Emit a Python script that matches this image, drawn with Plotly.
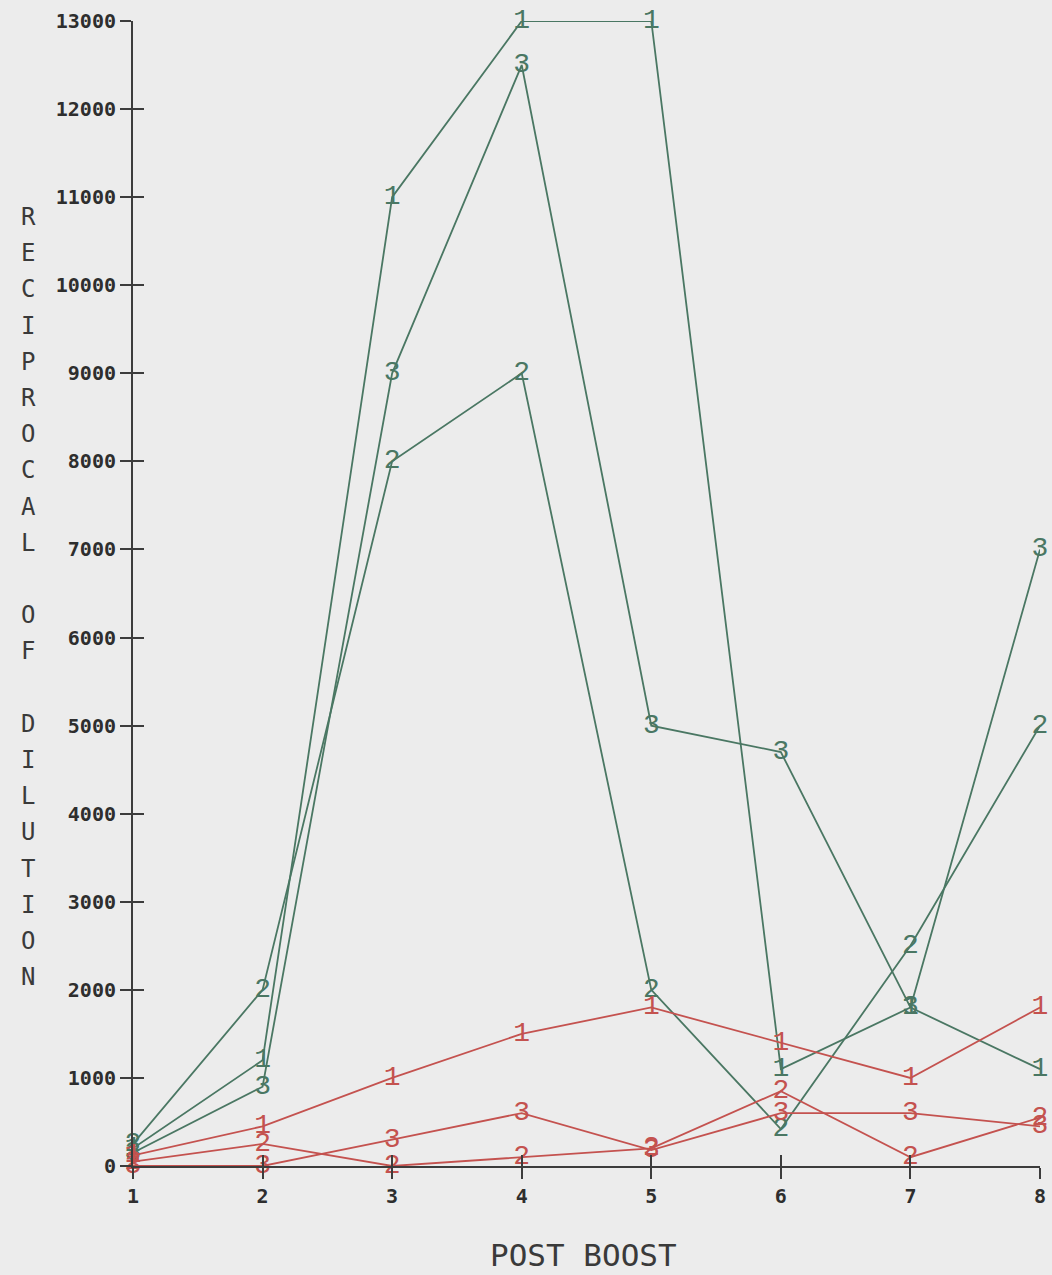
import plotly.graph_objects as go

# Post-boost sampling points
boosts = [1, 2, 3, 4, 5, 6, 7, 8]

# Reciprocal of dilution, green group
green_1 = [200, 1200, 11000, 13000, 13000, 1100, 1800, 1100]
green_2 = [250, 2000, 8000, 9000, 2000, 420, 2500, 5000]
green_3 = [150, 900, 9000, 12500, 5000, 4700, 1800, 7000]

# Reciprocal of dilution, red group
red_1 = [120, 450, 1000, 1500, 1800, 1400, 1000, 1800]
red_2 = [50, 250, 0, 100, 200, 850, 100, 550]
red_3 = [0, 0, 300, 600, 180, 600, 600, 450]

y_ticks = list(range(0, 13001, 1000))
y_title = "RECIPROCAL OF DILUTION"
x_title = "POST BOOST"

GREEN = "#4a7763"
RED = "#c4524f"
AXIS = "#3c3c3c"
BG = "#ececec"

W, H = 1052, 1275
L, R, T, B = 133, 12, 21, 109

fig = go.Figure()

series = [
    (green_1, "1", GREEN), (green_2, "2", GREEN), (green_3, "3", GREEN),
    (red_1, "1", RED), (red_2, "2", RED), (red_3, "3", RED),
]
for values, tag, colour in series:
    fig.add_trace(go.Scatter(
        x=boosts, y=values, mode="lines+text",
        text=[tag] * len(values), textposition="middle center",
        textfont=dict(family="Liberation Mono", size=28, color=colour),
        line=dict(color=colour, width=1.8),
        cliponaxis=False, showlegend=False, hoverinfo="skip",
    ))

# invisible trace carrying the inner half of the crossing ticks
fig.add_trace(go.Scatter(x=[boosts[0]], y=[0], xaxis="x2", yaxis="y2",
                         mode="markers", marker=dict(opacity=0),
                         showlegend=False, hoverinfo="skip"))

tick_font = dict(family="DejaVu Sans Mono", size=20, color="#2e2e2e", weight="bold")
common = dict(showgrid=False, zeroline=False, linecolor=AXIS, linewidth=2,
              tickcolor=AXIS, tickwidth=2, ticklen=11, automargin=False)

fig.update_layout(
    width=W, height=H,
    margin=dict(l=L, r=R, t=T, b=B, autoexpand=False),
    paper_bgcolor=BG, plot_bgcolor=BG,
    xaxis=dict(range=[1, 8], tickvals=boosts, ticktext=[str(b) for b in boosts],
               ticks="outside", showline=True, tickfont=tick_font, **common),
    yaxis=dict(range=[0, 13000], tickvals=y_ticks, ticktext=[str(v) for v in y_ticks],
               ticks="outside", showline=True, tickfont=tick_font, **common),
    xaxis2=dict(range=[1, 8], overlaying="x", side="bottom", tickvals=boosts,
                ticks="inside", showticklabels=False, showline=False, **common),
    yaxis2=dict(range=[0, 13000], overlaying="y", side="left", tickvals=y_ticks,
                ticks="inside", showticklabels=False, showline=False, **common),
)

plot_w = W - L - R
plot_h = H - T - B
annotations = []
# vertical, letter-stacked y-axis title
for i, ch in enumerate(y_title):
    if ch == " ":
        continue
    py = 217 + 36.2 * i
    annotations.append(dict(
        text=ch, xref="paper", yref="paper",
        x=(28 - L) / plot_w, y=(H - B - py) / plot_h,
        xanchor="center", yanchor="middle", showarrow=False,
        font=dict(family="DejaVu Sans Mono", size=24, color="#3a3a3a"),
    ))
annotations.append(dict(
    text=x_title, xref="paper", yref="paper",
    x=(583 - L) / plot_w, y=(H - B - 1255) / plot_h,
    xanchor="center", yanchor="middle", showarrow=False,
    font=dict(family="DejaVu Sans Mono", size=31, color="#3a3a3a"),
))
fig.update_layout(annotations=annotations)

fig.write_html("out.html")
